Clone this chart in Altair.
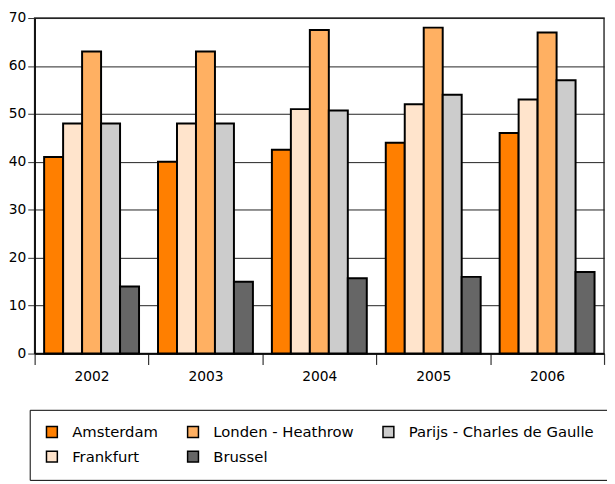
import altair as alt
import pandas as pd

years = ["2002", "2003", "2004", "2005", "2006"]
amsterdam = [41, 40, 42.5, 44, 46]
frankfurt = [48, 48, 51, 52, 53]
londen = [63, 63, 67.5, 68, 67]
parijs = [48, 48, 50.7, 54, 57]
brussel = [14, 15, 15.7, 16, 17]

series = {
    "Amsterdam": amsterdam,
    "Frankfurt": frankfurt,
    "Londen - Heathrow": londen,
    "Parijs - Charles de Gaulle": parijs,
    "Brussel": brussel,
}
bar_order = ["Amsterdam", "Frankfurt", "Londen - Heathrow", "Parijs - Charles de Gaulle", "Brussel"]
# legend fills column by column: (Amsterdam, Frankfurt), (Londen, Brussel), (Parijs)
legend_order = ["Amsterdam", "Frankfurt", "Londen - Heathrow", "Brussel", "Parijs - Charles de Gaulle"]
legend_colors = ["#FF7F00", "#FFE4CC", "#FFB062", "#666666", "#CCCCCC"]

rows = []
for name, vals in series.items():
    for y, v in zip(years, vals):
        rows.append({"year": y, "airport": name, "value": v})
df = pd.DataFrame(rows)

font = "DejaVu Sans"

chart = alt.Chart(df).mark_bar(stroke="black", strokeWidth=2).encode(
    x=alt.X("year:N", title=None,
            scale=alt.Scale(paddingInner=0, paddingOuter=0),
            axis=alt.Axis(labelAngle=0, tickBand="extent", tickSize=11,
                          labelPadding=5, labelFontSize=14, labelFont=font,
                          labelColor="black", domainColor="black", tickColor="#333",
                          domainWidth=1.5, tickWidth=1.2)),
    xOffset=alt.XOffset("airport:N", sort=bar_order,
                        scale=alt.Scale(paddingOuter=0.5, paddingInner=0)),
    y=alt.Y("value:Q", title=None,
            scale=alt.Scale(domain=[0, 70], nice=False),
            axis=alt.Axis(values=[0, 10, 20, 30, 40, 50, 60, 70], tickSize=7,
                          labelPadding=2, labelFontSize=14, labelFont=font,
                          labelColor="black", domainColor="black", tickColor="#333",
                          domainWidth=1.5, gridColor="#222", gridWidth=1)),
    color=alt.Color("airport:N",
                    scale=alt.Scale(domain=legend_order, range=legend_colors),
                    legend=alt.Legend(title=None, orient="none", legendX=-5, legendY=397,
                                      columns=3, columnPadding=26, rowPadding=8,
                                      symbolType="square", symbolSize=121,
                                      symbolStrokeColor="black", symbolStrokeWidth=1.5,
                                      labelFontSize=15, labelFont=font, labelColor="black",
                                      labelOffset=13, labelLimit=400, padding=15,
                                      strokeColor="black", symbolOpacity=1)),
).properties(
    width=577, height=340,
    autosize=alt.AutoSizeParams(type="none"),
    padding={"left": 27, "top": 7, "right": 3, "bottom": 129},
).configure_view(
    stroke="#333", strokeWidth=1.5
)

chart.save("out.html", embed_options={"renderer": "svg", "actions": False})
